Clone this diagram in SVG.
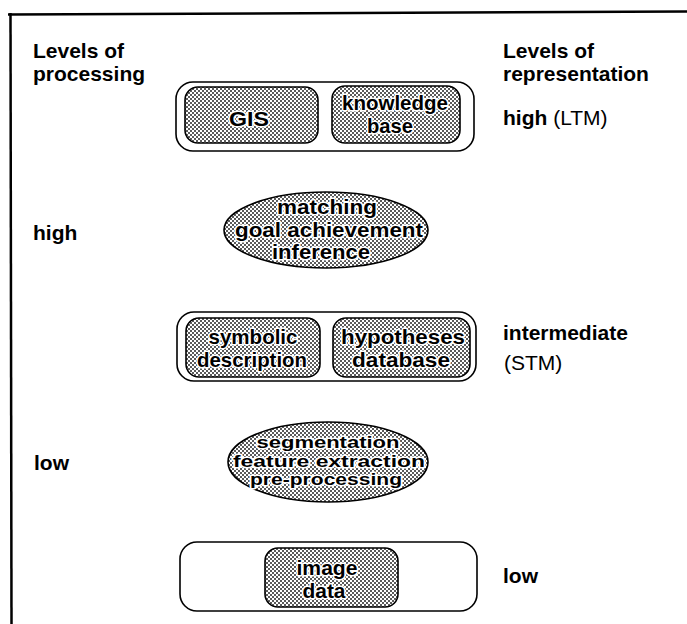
<svg xmlns="http://www.w3.org/2000/svg" width="687" height="624" viewBox="0 0 687 624">
  <defs>
    <!-- fine dot screen used to shade the inner boxes and ellipses -->
    <pattern id="stipple" width="4" height="4" patternUnits="userSpaceOnUse">
      <rect width="4" height="4" fill="#ffffff"/>
      <circle cx="1" cy="1" r="1" fill="#222"/>
      <circle cx="3" cy="3" r="1" fill="#222"/>
    </pattern>
  </defs>
  <style>
    .frame { fill: none; stroke: #000; stroke-width: 2.5; }
    .outer { fill: #fff; stroke: #000; stroke-width: 1.6; }
    .shade { fill: url(#stipple); stroke: #000; stroke-width: 1.6; }
    .label { font-family: "Liberation Sans", Arial, Helvetica, sans-serif; font-weight: bold; font-size: 21px; fill: #000; }
    .plain { font-weight: normal; }
    .inner { font-family: "Liberation Sans", Arial, Helvetica, sans-serif; font-weight: bold; font-size: 21px; fill: #000;
             text-anchor: middle; stroke: #fff; stroke-width: 3; stroke-linejoin: round; paint-order: stroke; }
    .tight { font-size: 17px; }
  </style>

  <rect width="687" height="624" fill="#fff"/>

  <!-- page frame: top rule and left rule -->
  <g id="frame">
    <path class="frame" d="M8 14.5 L687 11.5"/>
    <path class="frame" d="M10.5 13 L11.5 624"/>
  </g>

  <!-- side headings -->
  <g id="processing-labels">
    <text class="label" x="33" y="58">Levels of</text>
    <text class="label" x="33" y="81">processing</text>
    <text class="label" x="33" y="240">high</text>
    <text class="label" x="34" y="470">low</text>
  </g>
  <g id="representation-labels">
    <text class="label" x="503" y="58">Levels of</text>
    <text class="label" x="503" y="81">representation</text>
    <text class="label" x="503" y="125">high <tspan class="plain">(LTM)</tspan></text>
    <text class="label" x="503" y="340">intermediate</text>
    <text class="label plain" x="504" y="370">(STM)</text>
    <text class="label" x="503" y="583">low</text>
  </g>

  <!-- long-term memory: GIS and knowledge base -->
  <g id="ltm">
    <rect class="outer" x="176" y="82" width="298" height="69" rx="17"/>
    <g id="gis">
      <rect class="shade" x="185" y="87" width="133" height="56" rx="13"/>
      <text class="inner" x="249" y="126" textLength="40" lengthAdjust="spacingAndGlyphs">GIS</text>
    </g>
    <g id="knowledge-base">
      <rect class="shade" x="332" y="86" width="128" height="57" rx="13"/>
      <text class="inner" x="395" y="110" textLength="106" lengthAdjust="spacingAndGlyphs">knowledge</text>
      <text class="inner" x="390" y="133" textLength="46" lengthAdjust="spacingAndGlyphs">base</text>
    </g>
  </g>

  <!-- high-level processing -->
  <g id="high-processing">
    <ellipse class="shade" cx="326" cy="230" rx="102" ry="38"/>
    <text class="inner" x="327" y="214" textLength="100" lengthAdjust="spacingAndGlyphs">matching</text>
    <text class="inner" x="329" y="237" textLength="188" lengthAdjust="spacingAndGlyphs">goal achievement</text>
    <text class="inner" x="321" y="259" textLength="98" lengthAdjust="spacingAndGlyphs">inference</text>
  </g>

  <!-- short-term memory: symbolic description and hypotheses database -->
  <g id="stm">
    <rect class="outer" x="177" y="312" width="299" height="69" rx="17"/>
    <g id="symbolic-description">
      <rect class="shade" x="186" y="318" width="134" height="59" rx="13"/>
      <text class="inner" x="253" y="344" textLength="89" lengthAdjust="spacingAndGlyphs">symbolic</text>
      <text class="inner" x="252" y="367" textLength="110" lengthAdjust="spacingAndGlyphs">description</text>
    </g>
    <g id="hypotheses-database">
      <rect class="shade" x="333" y="318" width="137" height="59" rx="13"/>
      <text class="inner" x="403" y="344" textLength="124" lengthAdjust="spacingAndGlyphs">hypotheses</text>
      <text class="inner" x="401" y="367" textLength="98" lengthAdjust="spacingAndGlyphs">database</text>
    </g>
  </g>

  <!-- low-level processing -->
  <g id="low-processing">
    <ellipse class="shade" cx="328" cy="462" rx="100" ry="40"/>
    <text class="inner tight" x="328" y="448" textLength="143" lengthAdjust="spacingAndGlyphs">segmentation</text>
    <text class="inner tight" x="329" y="467" textLength="192" lengthAdjust="spacingAndGlyphs">feature extraction</text>
    <text class="inner tight" x="326" y="485" textLength="152" lengthAdjust="spacingAndGlyphs">pre-processing</text>
  </g>

  <!-- low-level representation: image data -->
  <g id="image-level">
    <rect class="outer" x="180" y="542" width="297" height="69" rx="17"/>
    <g id="image-data">
      <rect class="shade" x="265" y="548" width="133" height="59" rx="13"/>
      <text class="inner" x="327" y="575" textLength="61" lengthAdjust="spacingAndGlyphs">image</text>
      <text class="inner" x="324" y="598" textLength="43" lengthAdjust="spacingAndGlyphs">data</text>
    </g>
  </g>
</svg>
